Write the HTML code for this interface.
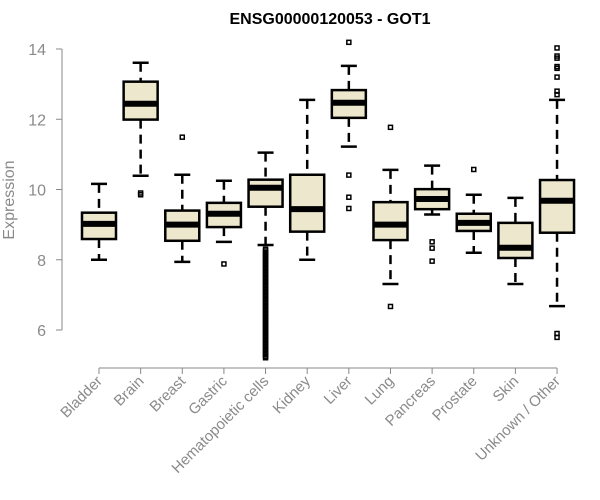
<!DOCTYPE html>
<html><head><meta charset="utf-8"><style>
body{margin:0;background:#fff;}
svg{display:block;font-family:"Liberation Sans",Arial,sans-serif;}
</style></head><body>
<svg id="chart" width="600" height="500">
<text x="330" y="24" text-anchor="middle" font-weight="bold" font-size="16" fill="#000">ENSG00000120053 - GOT1</text>
<text transform="translate(14,200) rotate(-90)" text-anchor="middle" font-size="16" fill="#8a8a8a">Expression</text>
<g id="yaxis"></g>
<g id="xaxis"></g>
<g id="boxes"></g>
</svg>
<script>
const categories=["Bladder","Brain","Breast","Gastric","Hematopoietic cells","Kidney","Liver","Lung","Pancreas","Prostate","Skin","Unknown / Other"];
const whiskLow=[8.0,10.39,7.94,8.51,8.42,8.0,11.22,7.31,9.29,8.2,7.31,6.68];
const q1=[8.59,11.99,8.54,8.93,9.51,8.80,12.04,8.56,9.44,8.82,8.05,8.77];
const medians=[9.02,12.44,9.0,9.31,10.05,9.44,12.47,9.0,9.73,9.05,8.34,9.68];
const q3=[9.34,13.07,9.4,9.62,10.28,10.42,12.83,9.64,10.01,9.31,9.05,10.27];
const whiskHigh=[10.16,13.61,10.42,10.25,11.05,12.55,13.52,10.56,10.68,9.85,9.76,12.55];
const outliers=[[],[9.9,9.85],[11.49],[7.88],
[8.3,8.25,8.2,8.15,8.1,8.05,8.0,7.95,7.9,7.85,7.8,7.75,7.7,7.65,7.6,7.55,7.5,7.45,7.4,7.35,7.3,7.25,7.2,7.15,7.1,7.05,7.0,6.95,6.9,6.85,6.8,6.75,6.7,6.65,6.6,6.55,6.5,6.45,6.4,6.35,6.3,6.25,6.2,6.15,6.1,6.05,6.0,5.95,5.9,5.85,5.8,5.75,5.7,5.65,5.6,5.55,5.5,5.45,5.4,5.35,5.3,5.25,5.21],
[],[14.19,10.41,9.78,9.46],[11.77,6.67],[8.51,8.33,7.96],[10.57],[],
[14.03,13.8,13.74,13.5,13.45,13.2,12.8,12.7,5.9,5.79]];
const yTicks=[6,8,10,12,14];

const NS="http://www.w3.org/2000/svg";
function y(v){return 49+(14-v)*35.125;}
function x(i){return 99+i*41.64;}
function mk(tag,attrs,parent){const e=document.createElementNS(NS,tag);for(const k in attrs)e.setAttribute(k,attrs[k]);parent.appendChild(e);return e;}
const ya=document.getElementById('yaxis'),xa=document.getElementById('xaxis'),bx=document.getElementById('boxes');
mk('line',{x1:62,x2:62,y1:y(14),y2:y(6),stroke:'#888','stroke-width':1},ya);
yTicks.forEach(t=>{
  const l=mk('line',{x1:56,x2:62,y1:y(t),y2:y(t),stroke:'#888','stroke-width':1},ya);
  
  
  const tx=mk('text',{x:46,y:y(t)+6,'text-anchor':'end','font-size':16,fill:'#8a8a8a'},ya);
  tx.textContent=t;
  
  
});
mk('line',{x1:x(0),x2:x(categories.length-1),y1:368,y2:368,stroke:'#888','stroke-width':1},xa);
categories.forEach((c,i)=>{
  const l=mk('line',{x1:x(i),x2:x(i),y1:368,y2:374,stroke:'#888','stroke-width':1},xa);
  
  
  const tx=mk('text',{transform:`translate(${x(i)+4},${382}) rotate(-45)`,'text-anchor':'end','font-size':15,fill:'#8a8a8a'},xa);
  tx.textContent=c;
  
  
  const g=mk('g',{},bx);
  
  
  const cx=x(i),hw=17,cw=8;
  mk('line',{x1:cx,x2:cx,y1:y(whiskHigh[i]),y2:y(q3[i]),stroke:'#000','stroke-width':2.5,'stroke-dasharray':'9,6'},g);
  mk('line',{x1:cx,x2:cx,y1:y(q1[i]),y2:y(whiskLow[i]),stroke:'#000','stroke-width':2.5,'stroke-dasharray':'9,6'},g);
  mk('line',{x1:cx-cw,x2:cx+cw,y1:y(whiskHigh[i]),y2:y(whiskHigh[i]),stroke:'#000','stroke-width':2.5},g);
  mk('line',{x1:cx-cw,x2:cx+cw,y1:y(whiskLow[i]),y2:y(whiskLow[i]),stroke:'#000','stroke-width':2.5},g);
  mk('rect',{x:cx-hw,y:y(q3[i]),width:2*hw,height:y(q1[i])-y(q3[i]),fill:'#ede7cd',stroke:'#000','stroke-width':2.5},g);
  mk('line',{x1:cx-hw,x2:cx+hw,y1:y(medians[i]),y2:y(medians[i]),stroke:'#000','stroke-width':6},g);
  outliers[i].forEach(v=>{
    const r=mk('rect',{x:cx-2,y:y(v)-2,width:4,height:4,fill:'none',stroke:'#000','stroke-width':1.5},g);
    
    
  });
});
</script>
</body></html>
